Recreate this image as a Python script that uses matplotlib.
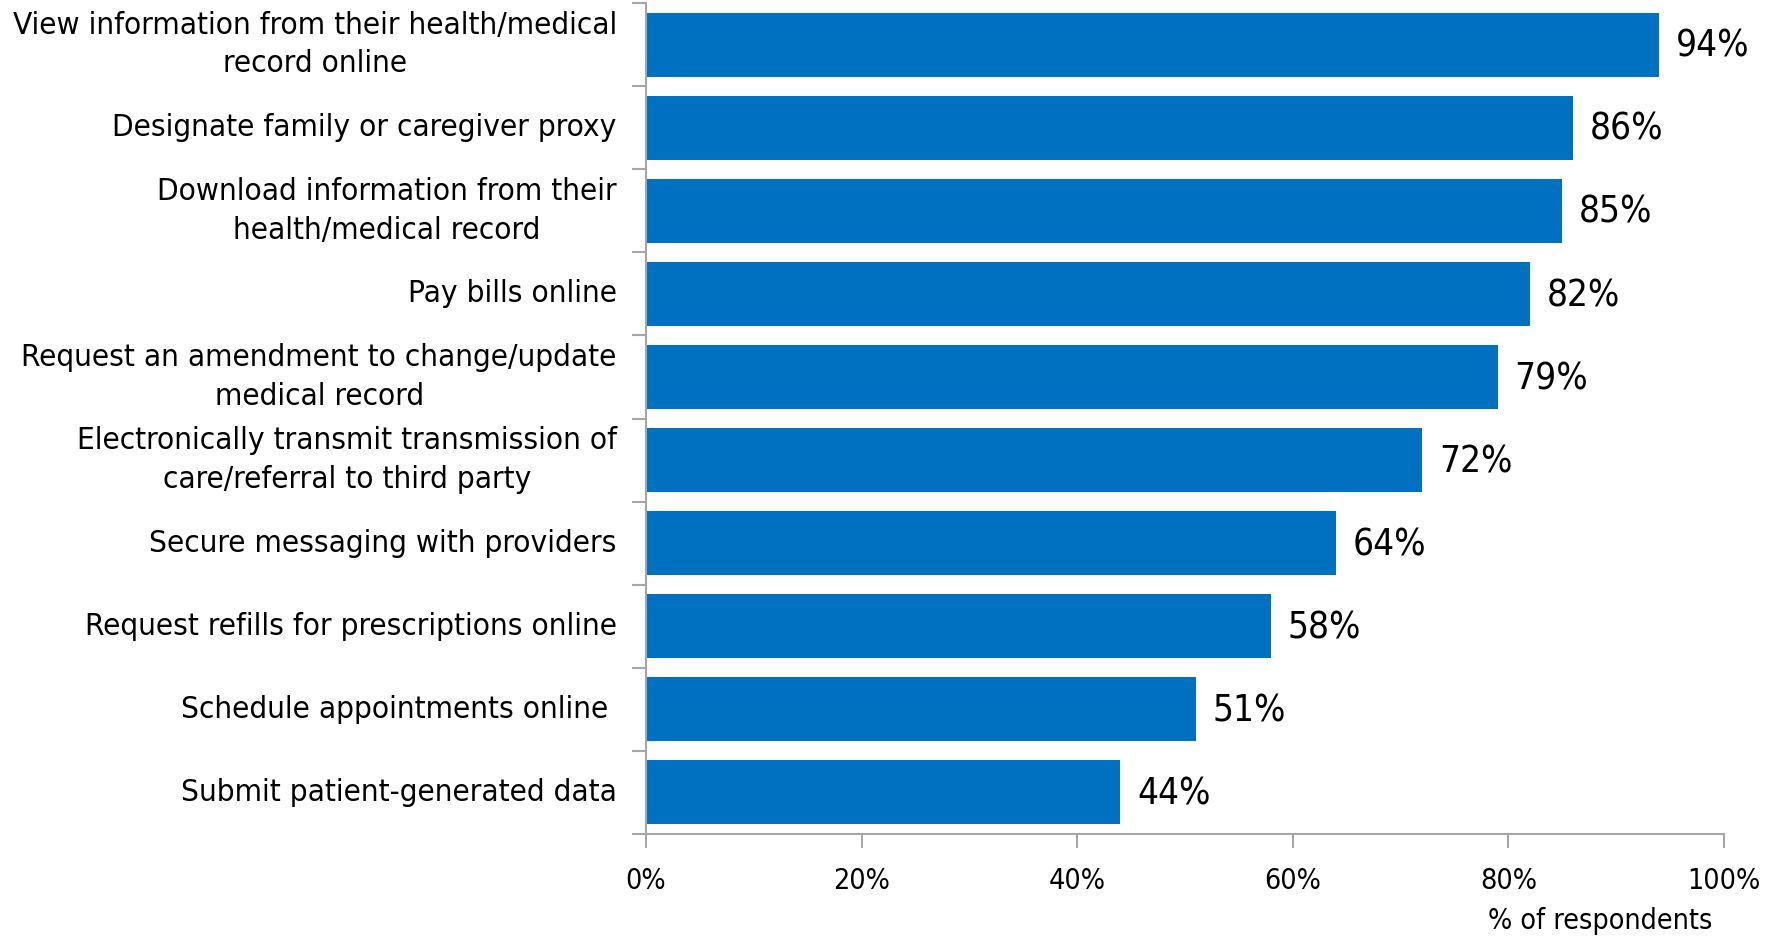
import matplotlib
matplotlib.use("Agg")
import matplotlib.pyplot as plt
from matplotlib.ticker import FuncFormatter, FixedLocator

plt.rcParams['font.family'] = ['DejaVu Sans']
plt.rcParams['font.stretch'] = 'condensed'

categories = [
    "View information from their health/medical\nrecord online",
    "Designate family or caregiver proxy",
    "Download information from their\nhealth/medical record",
    "Pay bills online",
    "Request an amendment to change/update\nmedical record",
    "Electronically transmit transmission of\ncare/referral to third party",
    "Secure messaging with providers",
    "Request refills for prescriptions online",
    "Schedule appointments online ",
    "Submit patient-generated data",
]
values = [94, 86, 85, 82, 79, 72, 64, 58, 51, 44]
x_ticks = [0, 20, 40, 60, 80, 100]

bar_color = "#0070C0"
axis_color = "#A6A6A6"

fig = plt.figure(figsize=(17.81, 9.41), dpi=100)
ax = fig.add_axes([646 / 1781, 1 - 834 / 941, (1724 - 646) / 1781, (834 - 3) / 941])

n = len(categories)
ypos = list(range(n))
ax.barh(ypos, values, height=0.77, color=bar_color, zorder=2)
ax.set_xlim(0, 100)
ax.set_ylim(n - 0.5, -0.5)

# value labels just past the end of each bar
for y, v in zip(ypos, values):
    ax.annotate(f"{v}%", xy=(v, y), xytext=(12, -1.2), textcoords="offset points",
                va="center", ha="left", fontsize=26.5, color="black")

ax.set_yticks(ypos)
ax.set_yticklabels(categories, fontsize=22.6, linespacing=1.42, ha="right",
                   va="center", multialignment="center")
ax.yaxis.set_minor_locator(FixedLocator([i - 0.5 for i in range(n + 1)]))
ax.tick_params(axis="y", which="major", length=0, pad=21)
ax.tick_params(axis="y", which="minor", length=10, color=axis_color, width=1.5)

ax.xaxis.set_major_locator(FixedLocator(x_ticks))
ax.xaxis.set_major_formatter(FuncFormatter(lambda v, p: f"{v:.0f}%"))
ax.tick_params(axis="x", length=10, color=axis_color, width=1.5, labelsize=20.5, pad=14)

for side in ("top", "right"):
    ax.spines[side].set_visible(False)
for side in ("left", "bottom"):
    ax.spines[side].set_color(axis_color)
    ax.spines[side].set_linewidth(1.5)

fig.text(1600 / 1781, 1 - 921 / 941, "% of respondents", ha="center", va="center", fontsize=20.5)

fig.savefig("out.png", dpi=100)
